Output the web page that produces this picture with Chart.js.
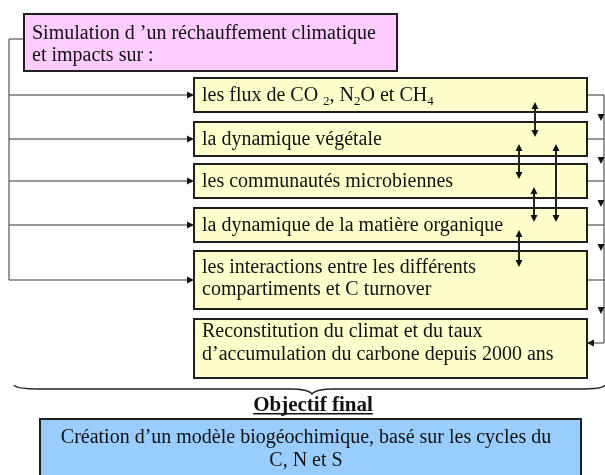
<!DOCTYPE html>
<html>
<head>
<meta charset="utf-8">
<script src="https://cdn.jsdelivr.net/npm/chart.js@4"></script>
<style>
  body { margin: 0; background: #fff; }
  canvas { display: block; }
</style>
</head>
<body>
<canvas id="diagram" width="605" height="475"></canvas>
<script>
// texts of the diagram (use _n for a subscript digit)
const headLines = ['Simulation d \u2019un réchauffement climatique', 'et impacts sur :'];
const impactLabels = [
    ['les flux de CO _2, N_2O et CH_4'],
    ['la dynamique végétale'],
    ['les communautés microbiennes'],
    ['la dynamique de la matière organique'],
    ['les interactions entre les différents', 'compartiments et C turnover']
];
const resultLines = ['Reconstitution du climat et du taux', 'd\u2019accumulation du carbone depuis 2000 ans'];
const goalTitle = 'Objectif final';
const goalLines = ['Création d\u2019un modèle biogéochimique, basé sur les cycles du', 'C, N et S'];

// layout (in axis units = pixels of the picture)
const headBox = [24, 14, 397, 71];
const impactTops = [78, 122, 164, 208, 251];
const impactBottoms = [112, 156, 198, 242, 309];
const resultBox = [194, 319, 587, 378];
const goalBox = [40, 419, 581, 480];
const boxLeft = 194, boxRight = 587;
const busLeft = 9, busRight = 604;
// linked pairs: [x, top tip, bottom tip]
const links = [[535, 102, 137], [519, 144, 179], [556, 144, 222], [534, 187, 222], [519, 230, 267]];

const FONT = '"Liberation Serif", "Times New Roman", serif';
const TEXT_SIZE = 20;
const LINE_GAP = 22;

function drawRich(ctx, str, x, y, size) {
    var parts = str.split(/(_\d)/);
    parts.forEach(function(p) {
        if (p.length == 2 && p[0] == '_') {
            ctx.font = Math.round(size * 0.65) + 'px ' + FONT;
            ctx.fillText(p[1], x, y + size * 0.22);
            x += ctx.measureText(p[1]).width;
        } else if (p.length) {
            ctx.font = size + 'px ' + FONT;
            ctx.fillText(p, x, y);
            x += ctx.measureText(p).width;
        }
    });
}

function arrowHead(ctx, x, y, dir) {
    // dir: 'r', 'l', 'u', 'd' ; x,y = tip
    var l = 7, w = 3.5;
    ctx.beginPath();
    ctx.moveTo(x, y);
    if (dir == 'r') { ctx.lineTo(x - l, y - w); ctx.lineTo(x - l, y + w); }
    if (dir == 'l') { ctx.lineTo(x + l, y - w); ctx.lineTo(x + l, y + w); }
    if (dir == 'd') { ctx.lineTo(x - w, y - l); ctx.lineTo(x + w, y - l); }
    if (dir == 'u') { ctx.lineTo(x - w, y + l); ctx.lineTo(x + w, y + l); }
    ctx.closePath();
    ctx.fill();
}

const diagramPlugin = {
    id: 'diagram',
    afterDraw: function(chart) {
        var ctx = chart.ctx;
        var sx = chart.scales.x, sy = chart.scales.y;
        var X = function(v) { return sx.getPixelForValue(v); };
        var Y = function(v) { return sy.getPixelForValue(v); };

        function box(b, fill) {
            ctx.fillStyle = fill;
            ctx.fillRect(X(b[0]), Y(b[1]), X(b[2]) - X(b[0]), Y(b[3]) - Y(b[1]));
            ctx.lineWidth = 2;
            ctx.strokeStyle = '#1e1e1e';
            ctx.strokeRect(X(b[0]), Y(b[1]), X(b[2]) - X(b[0]), Y(b[3]) - Y(b[1]));
        }
        function line(pts) {
            ctx.beginPath();
            ctx.moveTo(X(pts[0][0]), Y(pts[0][1]));
            for (var i = 1; i < pts.length; i++) ctx.lineTo(X(pts[i][0]), Y(pts[i][1]));
            ctx.stroke();
        }
        // lines drawn from a first baseline
        function textBlock(lines, x, base, align, gap) {
            ctx.fillStyle = '#111';
            ctx.textBaseline = 'alphabetic';
            ctx.textAlign = 'left';
            lines.forEach(function(t, i) {
                var tx = X(x);
                if (align == 'center') {
                    ctx.font = TEXT_SIZE + 'px ' + FONT;
                    tx = X(x) - ctx.measureText(t).width / 2;
                }
                drawRich(ctx, t, tx, Y(base + i * (gap || LINE_GAP)), TEXT_SIZE);
            });
        }

        ctx.save();
        // connectors
        ctx.strokeStyle = '#333';
        ctx.fillStyle = '#111';
        ctx.lineWidth = 1;
        var mids = impactTops.map(function(t, i) { return Math.round((t + impactBottoms[i]) / 2); });
        line([[headBox[0], 39], [busLeft, 39], [busLeft, mids[mids.length - 1]]]);
        mids.forEach(function(m) {
            line([[busLeft, m], [boxLeft - 6, m]]);
            arrowHead(ctx, X(boxLeft), Y(m), 'r');
            line([[boxRight, m], [busRight, m]]);
        });
        var resMid = 343;
        line([[busRight, mids[0]], [busRight, resMid], [boxRight + 6, resMid]]);
        arrowHead(ctx, X(boxRight), Y(resMid), 'l');
        var downTips = impactBottoms.map(function(b, i) {
            return i < impactTops.length - 1 ? Math.round((b + impactTops[i + 1]) / 2) + 4 : b + 5;
        });
        downTips.forEach(function(t) { arrowHead(ctx, X(busRight - 3), Y(t), 'd'); });

        // boxes
        box(headBox, '#ffccff');
        textBlock(headLines, 32, 39, 'left');
        impactLabels.forEach(function(lbl, i) {
            box([boxLeft, impactTops[i], boxRight, impactBottoms[i]], '#ffffcc');
            var mid = (impactTops[i] + impactBottoms[i]) / 2;
            var base = lbl.length > 1 ? impactTops[i] + 22 : mid + 6;
            textBlock(lbl, 202, base, 'left');
        });
        box(resultBox, '#ffffcc');
        textBlock(resultLines, 202, resultBox[1] + 18, 'left', 23);

        // two-way links
        ctx.strokeStyle = '#222';
        ctx.fillStyle = '#111';
        links.forEach(function(k) {
            line([[k[0], k[1] + 4], [k[0], k[2] - 4]]);
            arrowHead(ctx, X(k[0]), Y(k[1]), 'u');
            arrowHead(ctx, X(k[0]), Y(k[2]), 'd');
        });

        // brace
        ctx.lineWidth = 1.5;
        ctx.strokeStyle = '#222';
        var mid = 312;
        ctx.beginPath();
        ctx.moveTo(X(14), Y(385));
        ctx.quadraticCurveTo(X(16), Y(389), X(40), Y(389));
        ctx.lineTo(X(mid - 22), Y(389));
        ctx.quadraticCurveTo(X(mid - 4), Y(389), X(mid), Y(394));
        ctx.quadraticCurveTo(X(mid + 4), Y(389), X(mid + 22), Y(389));
        ctx.lineTo(X(580), Y(389));
        ctx.quadraticCurveTo(X(603), Y(389), X(605), Y(385));
        ctx.stroke();

        // goal
        ctx.fillStyle = '#111';
        ctx.font = 'bold 21px ' + FONT;
        ctx.textAlign = 'center';
        ctx.textBaseline = 'alphabetic';
        ctx.fillText(goalTitle, X(313), Y(411));
        var gw = ctx.measureText(goalTitle).width;
        ctx.fillRect(X(313) - gw / 2, Y(413), gw, 1.5);

        box(goalBox, '#99ccff');
        textBlock(goalLines, 306, 443, 'center', 23);
        ctx.restore();
    }
};

new Chart(document.getElementById('diagram'), {
    type: 'scatter',
    data: { datasets: [{ data: [], showLine: false }] },
    options: {
        responsive: false,
        animation: false,
        devicePixelRatio: 1,
        layout: { padding: 0 },
        plugins: { legend: { display: false }, tooltip: { enabled: false } },
        scales: {
            x: { type: 'linear', min: 0, max: 605, display: false },
            y: { type: 'linear', min: 0, max: 475, reverse: true, display: false }
        }
    },
    plugins: [diagramPlugin]
});
</script>
</body>
</html>
